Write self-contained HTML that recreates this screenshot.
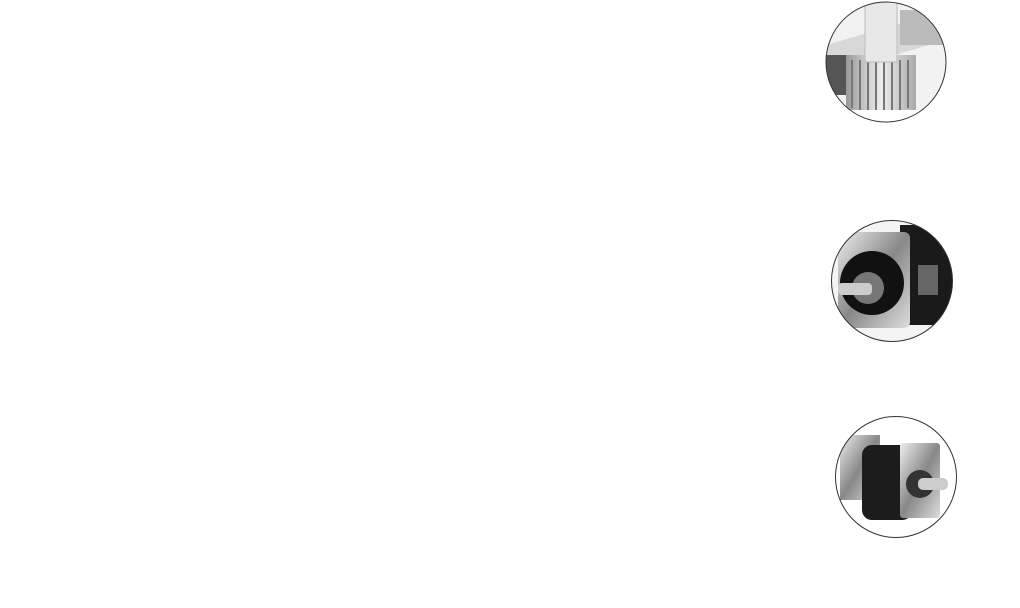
<!DOCTYPE html>
<html><head><meta charset="utf-8"><style>
html,body{margin:0;padding:0;background:#fff;width:1020px;height:608px;overflow:hidden}
svg{position:absolute;left:0;top:0}
</style></head><body>
<svg width="1020" height="608" viewBox="0 0 1020 608">
<defs>
<clipPath id="c1"><circle cx="886" cy="62" r="60"/></clipPath>
<clipPath id="c2"><circle cx="892" cy="281" r="60.5"/></clipPath>
<clipPath id="c3"><circle cx="896" cy="477" r="60.5"/></clipPath>
<linearGradient id="g1" x1="0" y1="0" x2="1" y2="0"><stop offset="0" stop-color="#999"/><stop offset=".5" stop-color="#eee"/><stop offset="1" stop-color="#aaa"/></linearGradient>
<linearGradient id="met" x1="0" y1="0" x2="1" y2="1"><stop offset="0" stop-color="#eee"/><stop offset=".5" stop-color="#888"/><stop offset="1" stop-color="#ddd"/></linearGradient>
</defs>
<!-- circle 1: rack & pinion -->
<g clip-path="url(#c1)">
<rect x="820" y="0" width="140" height="130" fill="#f2f2f2"/>
<polygon points="826,45 946,10 946,40 826,75" fill="#d8d8d8"/>
<rect x="826" y="55" width="30" height="40" fill="#555"/>
<rect x="846" y="55" width="70" height="60" fill="url(#g1)"/>
<g stroke="#777" stroke-width="2">
<line x1="852" y1="60" x2="852" y2="108"/><line x1="860" y1="60" x2="860" y2="110"/><line x1="868" y1="60" x2="868" y2="112"/><line x1="876" y1="60" x2="876" y2="112"/><line x1="884" y1="60" x2="884" y2="112"/><line x1="892" y1="60" x2="892" y2="112"/><line x1="900" y1="60" x2="900" y2="110"/><line x1="908" y1="60" x2="908" y2="108"/>
</g>
<rect x="865" y="0" width="32" height="62" fill="#e8e8e8" stroke="#bbb"/>
<rect x="900" y="10" width="46" height="35" fill="#bbb"/>
<rect x="820" y="110" width="140" height="20" fill="#fff"/>
</g>
<circle cx="886" cy="62" r="60" fill="none" stroke="#333" stroke-width="1"/>
<!-- circle 2: servo motor -->
<g clip-path="url(#c2)">
<rect x="820" y="215" width="140" height="130" fill="#f4f4f4"/>
<rect x="900" y="225" width="60" height="100" fill="#1a1a1a"/>
<rect x="838" y="232" width="72" height="96" rx="6" fill="url(#met)"/>
<circle cx="872" cy="283" r="32" fill="#111"/>
<circle cx="868" cy="288" r="16" fill="#777"/>
<rect x="838" y="283" width="34" height="12" rx="4" fill="#ccc"/>
<rect x="918" y="265" width="20" height="30" fill="#666"/>
</g>
<circle cx="892" cy="281" r="60.5" fill="none" stroke="#333" stroke-width="1"/>
<!-- circle 3: gearbox -->
<g clip-path="url(#c3)">
<rect x="830" y="410" width="140" height="135" fill="#fff"/>
<rect x="840" y="435" width="40" height="65" fill="url(#met)"/>
<rect x="862" y="445" width="50" height="75" rx="10" fill="#1c1c1c"/>
<rect x="900" y="443" width="40" height="75" rx="3" fill="url(#met)"/>
<circle cx="920" cy="484" r="14" fill="#333"/>
<rect x="918" y="478" width="30" height="12" rx="5" fill="#ccc"/>
</g>
<circle cx="896" cy="477" r="60.5" fill="none" stroke="#333" stroke-width="1"/>
</svg>
</body></html>
